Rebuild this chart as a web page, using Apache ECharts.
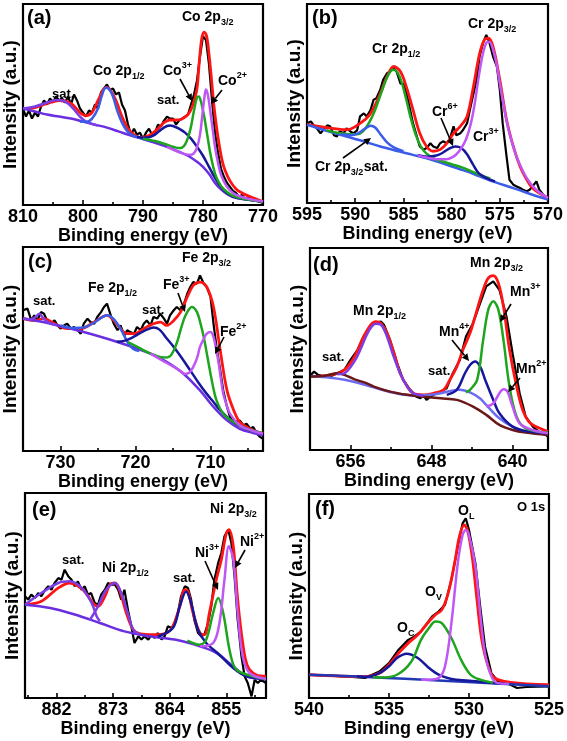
<!DOCTYPE html>
<html><head><meta charset="utf-8">
<script src="https://cdn.jsdelivr.net/npm/echarts@6/dist/echarts.min.js"></script>
<style>html,body{margin:0;padding:0;background:#fff}#c{width:567px;height:741px}</style>
</head><body><div id="c"></div>
<script>
// ---------- (a) Co 2p ----------
const aLabels=[810,800,790,780,770];
const aMinor=[805,795,785,775];
const aRaw=[[810,48],[809.5,44],[809,47],[808.5,43],[808,46],[807.5,44],[807,49],[806.5,52],[806,50],[805.5,53],[805,51],[804.5,54],[804,52],[803.5,53],[803,51],[802.5,54],[802,50],[801.5,55],[801,52],[800.5,48],[800,46],[799.5,44],[799,47],[798.5,46],[798,50],[797.5,48],[797,56],[796.5,58],[796,60],[795.5,57],[795,58],[794.5,55],[794,56],[793.5,50],[793,47],[792.5,40],[792,35],[791.5,38],[791,35],[790.5,36],[790,33],[789.5,36],[789,38],[788.5,35],[788,36],[787.5,40],[787,39],[786.5,42],[786,44],[785.5,43],[785,43],[784.5,40],[784,42],[783.5,43],[783,44],[782.5,45],[782,50],[781.5,55],[781,62],[780.5,74],[780,84],[779.5,82],[779,70],[778.5,52],[778,36],[777.5,26],[777,18],[776.5,14],[776,11],[775.5,9],[775,7],[774.5,6],[774,4],[773.5,5],[773,3],[772.5,4],[772,2.5],[771.5,3],[771,2],[770,1]];
const aFit=[[810,48],[808,48.5],[806,50.5],[804,52],[802,50.5],[800.5,46],[799.5,44.5],[798.5,46],[797.5,52],[796.5,58],[796,58.5],[795.5,57.5],[794.5,52],[793.5,44],[792.5,38],[791.5,35],[790.5,33.5],[789.5,34],[788.5,35.5],[787.5,38],[786.5,41],[785.5,42.3],[784.5,42.3],[783.5,42.8],[782.5,45],[782,47.5],[781.5,51.5],[781,58],[780.6,72],[780.2,83],[779.8,86],[779.4,84],[779,75],[778.6,63],[778.2,50],[777.8,40],[777.3,30],[776.8,22],[776.3,17],[775.5,12],[774.5,8],[773.5,6],[772,4],[771,2.8],[770,1.7]];
const aBg=[[810,48],[808,46.5],[806,45],[804,44],[802,43],[800,41.5],[798,40],[796,38.5],[794,36.5],[792,34.5],[790,32.8],[788,31],[786,29],[784,26.5],[782.5,24.5],[781,21.5],[780,19],[779,15.5],[778,11],[777,7.8],[776,5.5],[775,4],[773,2.8],[770,1.7]];
const aSat1=[[810,48],[808,49],[806,51],[804.5,52.2],[803.5,52],[802.5,50.5],[801.5,47.5],[800.5,44],[799.5,41.5],[798.5,40.3],[797.5,39.5]];
const aP12=[[800.5,41.5],[799.5,41.3],[798.5,43],[797.5,48],[796.8,55],[796.2,58.3],[795.6,57.5],[795,54],[794.3,47],[793.5,41],[792.7,37],[791.8,34.8],[790.5,33.4],[789,32]];
const aSat2=[[791,34],[790,33.5],[789,33.7],[788,35],[787,37.5],[786,39.3],[785.5,39.5],[785,39.3],[784,38],[783,36],[782,33],[781,29],[780,24.5],[779,19],[778,13.5],[777,9],[776,6],[775,4.2],[773,2.8],[770,1.7]];
const aCo3=[[790,33],[788,31.8],[786,30],[785,29],[784,28.3],[783.5,28.5],[783,30],[782.5,33.5],[782,39],[781.5,47],[781,53.5],[780.7,54],[780.3,51],[779.8,44],[779.3,35],[778.8,26],[778.3,19],[777.8,14],[777,9.5],[776,6.5],[775,4.6],[773,3],[770,1.7]];
const aCo2=[[786,29],[785,27.5],[784,26.3],[783,25.3],[782,25],[781.5,25.8],[781,28.5],[780.5,35],[780.1,45],[779.7,55],[779.5,57.5],[779.2,55],[778.8,47],[778.4,38],[778,29],[777.5,21],[777,15],[776,9],[775,6],[774,4.5],[772,2.8],[770,1.7]];

// ---------- (b) Cr 2p ----------
const bLabels=[595,590,585,580,575,570];
const bMinor=[592.5,587.5,582.5,577.5,572.5];
const bRaw=[[595,40],[594.6,41],[594.3,39],[594,37.6],[593.6,35],[593.3,36.8],[592.9,39],[592.6,38.5],[592.2,34],[591.9,33.4],[591.6,36],[591.2,35],[590.9,37.5],[590.5,36],[590.2,35],[589.8,36.5],[589.5,43.5],[589.1,45],[588.8,43.5],[588.4,46.8],[588.1,51.8],[587.8,52.7],[587.4,56.9],[587.1,61.9],[586.7,65.2],[586.4,66],[586,67.7],[585.7,66],[585.3,60],[585,60],[584.6,53.5],[584.3,46.8],[584,40],[583.6,33.4],[583.3,28.4],[582.9,26.8],[582.6,27.6],[582.2,30],[581.9,28.4],[581.5,27.6],[581.2,30],[580.9,31],[580.5,30],[580.2,31.8],[579.8,38.5],[579.5,34],[579.1,35],[578.8,36.8],[578.4,40],[578.1,46.8],[577.8,53.5],[577.4,61.9],[577.1,73.6],[576.7,81],[576.4,84.4],[576.1,81],[575.7,73.6],[575.3,68.6],[575,56.9],[574.7,40],[574.3,23.4],[574,11.7],[573.6,9.2],[573.3,8.4],[572.9,7.5],[572.6,6.7],[572.2,5.9],[571.9,6.7],[571.6,8.4],[571.2,10.9],[570.9,6.7],[570.5,4.2],[570.2,2.5],[570,1.7]];
const bFit=[[595,39.5],[592.6,37.6],[590.9,36.8],[589.5,40],[588.4,45],[587.4,55],[586.7,63.5],[586,68.6],[585.3,66],[584.7,58.5],[584,46.8],[583.3,35],[582.6,28.4],[581.9,26],[581.2,26.8],[580.5,30],[579.8,35],[579.1,38.5],[578.4,43.5],[577.8,56.9],[577.1,75],[576.6,82],[576.2,82.8],[575.7,78.6],[575,61.9],[574.3,41.8],[573.6,28.4],[572.9,18.4],[572.2,11.7],[571.6,7.5],[570.9,5],[570,2.5]];
const bBg=[[595,39.3],[593,36.3],[590.9,33.4],[589,30.8],[587.4,28.4],[585.5,26],[584,24.2],[582,21.6],[580.5,19.2],[578.5,16],[577.1,13.4],[575.5,10.5],[573.6,7.5],[572,4.8],[570,1.7]];
const bP12=[[593,36.5],[591.5,35],[590.5,34.5],[589.8,34.5],[589.2,36],[588.6,40],[588,46],[587.4,54],[586.8,62],[586.3,66.5],[586,67],[585.6,65.5],[585.2,61],[584.7,52],[584.2,42],[583.7,34],[583.2,28.5],[582.6,24.8],[581.8,22.3],[581,21],[580,19.5],[579,18],[578,16],[577.1,14.2],[576,12.2]];
const bSat=[[591.5,34.5],[590.5,34],[589.7,35],[589,37.3],[588.4,38.8],[587.9,37.8],[587.3,34],[586.7,30.5],[586,28],[585,26]];
const bCr6=[[583.5,24],[582.5,23.3],[581.7,23.7],[581,25],[580.3,27.2],[579.6,28.4],[579,27.6],[578.4,24.5],[577.8,19.5],[577.2,15],[576.5,12.8],[575.5,10.8]];
const bCr3=[[583.5,23.8],[582.5,22.8],[581.5,22],[580.5,22],[580,22.8],[579.5,24.5],[579,27.5],[578.5,32],[578,40],[577.6,50],[577.2,63],[576.8,74],[576.4,80.5],[576.1,81],[575.7,77],[575.3,69],[575,60],[574.6,49],[574.2,39],[573.7,30],[573.2,22.5],[572.7,17],[572.2,12.5],[571.5,8],[570.8,5],[570,2.5]];

// ---------- (c) Fe 2p ----------
const cLabels=[730,720,710];
const cMinor=[725,715,705];
const cRaw=[[735,69],[734.4,69.8],[733.9,64],[733.5,66.5],[733.1,64],[732.6,68.1],[732.2,67.3],[731.7,63.2],[731.3,62.4],[730.8,64],[730.4,61.6],[730,60],[729.5,61.6],[729.1,62.4],[728.6,60],[728.2,60.8],[727.7,59.2],[727.3,57.5],[726.9,62.4],[726.4,64.9],[726,63.2],[725.5,62.4],[725.1,65.7],[724.6,68.1],[724.2,70.6],[723.8,72.2],[723.3,66.5],[722.9,62.4],[722.4,59.2],[722,61.6],[721.5,56.7],[721.1,59.2],[720.7,58.3],[720.2,57.5],[719.8,60.8],[719.3,59.2],[718.9,62.4],[718.5,64],[718,61.6],[717.6,65.7],[717.1,64.9],[716.7,67.3],[716.2,64.9],[715.8,62.4],[715.4,66.5],[714.9,69],[714.5,70.6],[714,69],[713.6,71.4],[713.1,77.1],[712.7,80.4],[712.3,82.8],[711.8,82],[711.4,86.1],[710.9,82],[710.5,80.4],[710,75.5],[709.6,62.4],[709.2,51],[708.7,39.5],[708.3,29.7],[707.8,21.6],[707.4,16.7],[706.9,15],[706.5,14.2],[706.1,15],[705.6,12.6],[705.2,13.4],[704.7,10.9],[704.3,11.8],[703.8,8.5],[703.4,6.9],[703,6]];
const cFit=[[735,64.9],[733.5,64],[732.2,64.9],[730.8,62.4],[729.1,60],[727.3,60],[725.5,63.2],[723.8,66.5],[722.9,64],[722,60],[721.1,57.5],[720.2,57.5],[718.9,60],[717.6,62.4],[716.7,63.2],[715.8,61.6],[714.9,64],[714,68.1],[713.1,75.5],[712.3,81.2],[711.4,82.8],[710.5,80.4],[709.6,70.6],[708.7,49.3],[707.8,29.7],[706.9,19.9],[706.1,14.2],[705.2,11.8],[704.3,10.1],[703,8.5]];
const cBg=[[735,64.9],[731.3,62.4],[726.9,58.3],[722.4,53.4],[718,47.7],[715.8,43.6],[713.6,37.9],[711.4,29.7],[709.6,21.6],[707.8,15],[706.1,10.9],[704.3,8.8],[703,7.7]];
const cSat1=[[735,64.9],[734,64.5],[733.4,65.5],[732.8,67.3],[732.3,65],[731.5,62.8],[730.5,61.8]];
const cP12=[[730,61.5],[728.5,60.3],[727,60.5],[725.5,63],[724.5,65.5],[723.8,66.5],[723,65],[722,60],[721,53],[720.3,50],[719.5,49]];
const cSat2=[[722.5,53.5],[721.5,54],[720.5,55.5],[719.5,57.5],[718.5,59.5],[717.6,60.5],[716.8,59.5],[715.8,55],[714.9,51],[713.8,45.5],[712.7,39.5],[711.6,33.5],[710.5,28],[709.6,24],[708.7,20],[707,14.2],[705.2,10.9],[703,8.5]];
const cFe3=[[721,53.4],[719.5,50.5],[718,47.7],[717,46.3],[716.2,45.8],[715.4,46.5],[714.9,49.3],[714.4,54],[714,59.2],[713.5,65],[713.1,68.1],[712.5,70.6],[711.8,68.1],[711.3,62],[710.9,55.9],[710.4,46],[710,37.9],[709.6,30.5],[709.2,24.8],[708.3,18.3],[706.9,14.2],[705.2,10.9],[703,8.8]];
const cFe2=[[718,47.7],[716.5,44.5],[715,41.5],[714,39.2],[713.4,37.8],[712.8,38.5],[712.3,41.2],[711.8,45.5],[711.4,51],[710.9,55],[710.5,57.5],[710,58.3],[709.6,55.9],[709.2,49],[708.9,42.8],[708.6,35],[708.3,28.1],[707.8,22],[707.4,18.3],[706.1,12.6],[704.3,9.8],[703,8.5]];

// ---------- (d) Mn 2p ----------
const dLabels=[656,648,640];
const dMinor=[652,644];
const dRaw=[[659.9,37.2],[659.6,38.8],[659.2,37.2],[658.6,36.4],[657.9,36.7],[657.3,38],[656.6,39.7],[656,44.6],[655.3,49.6],[654.7,56.2],[654,62],[653.5,62.8],[653,63.6],[652.7,62],[652.1,54.5],[651.4,43],[650.8,34.7],[650.1,29.8],[649.5,26.4],[649.1,25.6],[648.8,27.3],[648.5,24.8],[648.1,26.4],[647.8,27.3],[647.1,28.9],[646.5,30.6],[645.9,38],[645.2,44.6],[644.6,56.2],[643.9,62.8],[643.2,72.7],[642.6,81],[641.9,83.5],[641.3,79.3],[640.6,66.1],[640,47.9],[639.3,28.1],[638.7,16.5],[638,11.6],[637.4,9.1],[636.7,7.4],[636.5,6.6]];
const dFit=[[659.9,36.4],[657.9,37.2],[656.6,39.7],[655.6,46.3],[654.7,56.2],[654,62],[653.5,63.6],[653,62.8],[652.4,57.9],[651.7,47.9],[651.1,38],[650.4,31.4],[649.8,28.1],[648.8,27.3],[647.8,28.1],[646.8,29.8],[646.2,34.7],[645.5,41.3],[644.9,49.6],[644.2,57.9],[643.6,67.8],[642.9,79.3],[642.4,85.1],[641.9,86.3],[641.4,82.6],[640.9,71.1],[640.3,49.6],[639.6,31.4],[639,19.8],[638.4,14],[637.7,11.6],[636.5,9.1]];
const dBg=[[659.9,36.4],[658.5,36.8],[657.3,38],[656.6,37.2],[655.6,35],[654.5,33.2],[653.7,31.4],[652.1,28.9],[650.4,27.3],[648.8,26.4],[647.1,25.6],[645.5,24.8],[643.9,21.5],[642.6,17.4],[641.3,12.4],[640,9.9],[638.7,8.6],[636.5,7.4]];
const dSat2=[[659.9,36.5],[658,35.8],[656.6,34.8],[655.3,33.3],[653.7,31],[652.1,28.7],[650.4,27.2],[649.1,27],[648.1,27.3],[647.1,28.1],[646,29.4],[645.2,29.8],[644.2,28.5],[643.2,25.5],[642.6,22.3],[641.3,15.7],[640,11.6],[638.7,9.1],[636.5,8.3]];
const dP12=[[657.3,37.5],[656.6,38],[655.6,44],[655,50],[654.4,57],[653.9,61.2],[653.5,62.5],[653,62],[652.4,56.2],[651.8,47.1],[651.1,38],[650.4,31.4],[649.8,28.1],[648.8,26.9]];
const dMn4=[[646.5,27.3],[645.5,29.8],[644.7,38],[644.2,42.1],[643.7,43.8],[643.2,41.3],[642.7,34.7],[641.9,24.8],[641.3,18.2],[640,11.6],[638.4,9.1],[636.5,8.3]];
const dMn3=[[644.6,28.5],[644.2,29.8],[643.5,34.7],[642.9,54.5],[642.4,69.4],[641.9,73.6],[641.4,69.4],[640.9,54.5],[640.3,31.4],[639.6,16.5],[638.7,10.7],[636.5,8.6]];
const dMn2=[[642.6,21.5],[641.9,23.1],[641.3,28.1],[640.9,30.1],[640.5,28.9],[640,21.5],[639.3,13.2],[638,9.9],[636.5,8.3]];

// ---------- (e) Ni 2p ----------
const eLabels=[882,873,864,855];
const eMinor=[886.5,877.5,868.5,859.5,850.5];
const eRaw=[[887,49.6],[886.5,48],[886,50.4],[885.4,48.8],[884.9,51.2],[884.4,49.6],[883.8,52.8],[883.3,54.5],[882.8,52.8],[882.3,56.1],[881.7,58.5],[881.2,57.7],[880.7,62.6],[880.1,59.3],[879.6,57.7],[879.1,54.5],[878.6,56.9],[878,52.8],[877.5,54.5],[877,50.4],[876.5,51.2],[875.9,46.3],[875.4,45.5],[874.9,50.4],[874.3,52.8],[873.8,56.1],[873.3,55.3],[872.7,55.3],[872.2,52.8],[871.7,48],[871.2,52.8],[870.6,42.3],[870.1,35],[869.6,26.8],[869,30.1],[868.5,28.5],[868,30.1],[867.4,28.5],[866.9,30.9],[866.4,29.3],[865.9,31.7],[865.3,28.5],[864.8,30.1],[864.3,35],[863.7,34.1],[863.2,36.6],[862.7,41.5],[862.2,49.6],[861.6,54.5],[861.1,53.7],[860.6,48],[860.1,38.2],[859.5,31.7],[859,30.1],[858.5,30.9],[857.9,36.6],[857.4,44.7],[856.9,57.7],[856.3,65.9],[855.8,70.7],[855.3,78.9],[854.7,82.1],[854.2,75.6],[853.7,59.3],[853.2,38.2],[852.6,20.3],[852.1,10.6],[851.6,7.3],[851,0.8],[850.5,8.9],[850,7.3],[849.5,8.9],[848.7,7.3]];
const eFit=[[887,45.5],[884.4,47.2],[881.7,53.7],[879.9,56.1],[877.8,52.8],[876.2,46.3],[875.4,44.7],[874.3,49.6],[873.5,55.3],[872.7,56.1],[872,52.8],[870.9,41.5],[869.8,33.3],[868.8,31.4],[866.6,30.9],[864.5,31.7],[863.5,35],[862.4,44.7],[861.6,52.8],[861.1,52],[860.3,41.5],[859.2,31.7],[858.5,30.9],[857.7,41.5],[856.6,57.7],[855.8,67.5],[855,80.5],[854.6,82.1],[853.9,74],[853.2,48],[852.4,26.8],[851.6,15.4],[850.3,11.4],[848.7,10.6]];
const eBg=[[887,45.5],[883,43.9],[879.1,40.7],[875.1,36.6],[871.2,32.5],[867.2,30.1],[863.2,28.5],[859.2,25.2],[856.6,22],[853.9,15.4],[851.8,10.6],[848.7,9.3]];
const eSat1=[[887,45.5],[884.4,51.2],[881.7,56.1],[879.9,56.9],[878,53.7],[876.4,46.3],[875.6,39.8],[875.1,37.5]];
const eP12=[[876.7,38],[875.4,44.7],[874.1,52.8],[872.7,56.1],[871.7,51.2],[870.6,40.7],[869.8,33.3],[868.8,31]];
const eSat2=[[865.9,30],[863.5,34.1],[862.4,44.7],[861.4,52],[860.6,46.3],[859.5,33.3],[858.2,26.8],[856.1,21.1],[853.9,14.6],[851.8,10.6],[848.7,9.3]];
const eNi3=[[861.2,28],[859.2,26],[858.2,28.5],[857.1,41.5],[856.3,48.8],[855.5,41.5],[854.4,22],[853.4,13.8],[850.8,10.6],[848.7,9.3]];
const eNi2=[[859.2,25.2],[857.1,26.8],[856.1,36.6],[855.3,57.7],[854.6,74],[853.9,67.5],[853.2,41.5],[852.4,20.3],[851.3,12.2],[848.7,9.3]];

// ---------- (f) O 1s ----------
const fLabels=[540,535,530,525];
const fMinor=[537.5,532.5,527.5];
const fRaw=[[540,11.4],[537.7,10.6],[536.5,9.8],[535.6,13],[535,17.1],[534.4,23.7],[533.8,28.5],[533.4,30.2],[533,32.6],[532.3,40],[531.9,42.4],[531.5,45.7],[531.1,57.9],[530.7,74.2],[530.4,85.6],[530.2,88.1],[530,82.4],[529.6,66.1],[529.3,44.9],[529,25.3],[528.6,12.2],[528.2,8.2],[527.4,6.5],[527,4.9],[526.4,5.4],[525,5.7]];
const fFit=[[540,11.4],[536.6,10.5],[535.6,12.2],[535,16.3],[534.4,22],[533.8,26.9],[533.2,31],[532.5,37.5],[532.1,40.8],[531.7,43.2],[531.3,51.4],[530.9,66.1],[530.6,79.1],[530.3,84.8],[530.1,82.4],[529.8,69.3],[529.5,48.1],[529.2,28.5],[528.8,15.5],[528.4,9.8],[527.4,7.7],[525,6.5]];
const fBg=[[540,11.4],[537,10.5],[534,9.4],[531,8.2],[528,7],[525,5.7]];
const fOc=[[537,10.5],[536.5,10.3],[535.6,12.2],[535,15.5],[534.5,19.6],[533.9,21.7],[533.2,19.6],[532.5,14.7],[531.9,11.4],[531.1,9.3],[530,8.5],[528,7]];
const fOv=[[536,10.2],[535.5,10],[534.5,11.4],[533.6,17.9],[533,28.5],[532.5,34.3],[532.1,37.5],[531.7,36.7],[531.1,29.4],[530.5,18.8],[529.9,11.4],[529.3,9],[528.5,7.5]];
const fOl=[[533,9],[532.5,9],[531.9,9.8],[531.5,15.5],[531.1,36.7],[530.7,66.1],[530.4,79.9],[530.2,82.4],[530,79.9],[529.6,64.6],[529.3,41.6],[529,22],[528.6,10.6],[528.2,7.3],[527.5,7]];

// ---------- build ----------
const FONT='"Liberation Sans", Arial, sans-serif';
const COL={raw:'#000000',fit:'#ff1414',green:'#1ea51e',navy:'#17179c',blue:'#3b5ce8',bg:'#6a2fe0',vio:'#c056f5',brown:'#6b1818',lblue:'#6c6cf2',sat:'#7b3de6',obg:'#2038b4'};

const panels=[
 {g:{left:22,top:4,width:241,height:201},min:770,max:810,lab:aLabels,minor:aMinor,
  s:[[aRaw,'raw'],[aFit,'fit'],[aBg,'bg'],[aSat1,'sat'],[aP12,'blue'],[aSat2,'navy'],[aCo3,'green'],[aCo2,'vio']]},
 {g:{left:307,top:4,width:241,height:199},min:570,max:595,lab:bLabels,minor:bMinor,
  s:[[bRaw,'raw'],[bFit,'fit'],[bBg,'blue'],[bP12,'green'],[bSat,'blue'],[bCr6,'navy'],[bCr3,'vio']]},
 {g:{left:22,top:247,width:241,height:204},min:703,max:735,lab:cLabels,minor:cMinor,
  s:[[cRaw,'raw'],[cFit,'fit'],[cBg,'bg'],[cSat1,'sat'],[cP12,'blue'],[cSat2,'navy'],[cFe3,'green'],[cFe2,'vio']]},
 {g:{left:310,top:248,width:238,height:202},min:636.5,max:660,lab:dLabels,minor:dMinor,
  s:[[dRaw,'raw'],[dFit,'fit'],[dSat2,'lblue'],[dBg,'brown'],[dP12,'sat'],[dMn4,'navy'],[dMn3,'green'],[dMn2,'vio']]},
 {g:{left:25,top:493,width:241,height:205},min:848.7,max:887,lab:eLabels,minor:eMinor,
  s:[[eRaw,'raw'],[eFit,'fit'],[eBg,'bg'],[eSat1,'sat'],[eP12,'sat'],[eSat2,'navy'],[eNi3,'green'],[eNi2,'vio']]},
 {g:{left:309,top:494,width:243,height:204},min:525,max:540,lab:fLabels,minor:fMinor,
  s:[[fRaw,'raw'],[fFit,'fit'],[fBg,'obg'],[fOc,'navy'],[fOv,'green'],[fOl,'vio']]}
];

const grid=[],xAxis=[],yAxis=[],series=[];
panels.forEach((p,i)=>{
  grid.push(Object.assign({show:true,borderColor:'#000',borderWidth:2.2,backgroundColor:'transparent',containLabel:false},p.g));
  xAxis.push({gridIndex:i,type:'value',inverse:true,min:p.min,max:p.max,position:'bottom',
    axisLine:{show:false},splitLine:{show:false},
    axisTick:{show:true,inside:true,length:5,customValues:p.lab,lineStyle:{color:'#000',width:1.6}},
    axisLabel:{show:true,customValues:p.lab,color:'#000',fontSize:18,fontWeight:'bold',fontFamily:FONT,margin:3},
    name:'Binding energy (eV)',nameLocation:'middle',nameGap:20,
    nameTextStyle:{color:'#000',fontSize:18,fontWeight:'bold',fontFamily:FONT}});
  xAxis.push({gridIndex:i,type:'value',inverse:true,min:p.min,max:p.max,position:'bottom',
    axisLine:{show:false},splitLine:{show:false},axisLabel:{show:false},
    axisTick:{show:true,inside:true,length:3,customValues:p.minor,lineStyle:{color:'#000',width:1.6}}});
  yAxis.push({gridIndex:i,type:'value',min:0,max:100,
    axisLine:{show:false},axisTick:{show:false},axisLabel:{show:false},splitLine:{show:false},
    name:'Intensity (a.u.)',nameLocation:'middle',nameGap:3,
    nameTextStyle:{color:'#000',fontSize:19,fontWeight:'bold',fontFamily:FONT}});
  p.s.forEach(([d,c],k)=>{
    series.push({type:'line',xAxisIndex:2*i,yAxisIndex:i,data:d,showSymbol:false,symbol:'none',
      smooth:c==='raw'?false:0.35,silent:true,animation:false,z:2+k,
      lineStyle:{color:COL[c],width:c==='raw'?2.2:(c==='fit'?2.8:2.5)}});
  });
});

// ---------- annotations ----------
const mctx=document.createElement('canvas').getContext('2d');
function tw(t,fs){mctx.font='bold '+fs+'px '+FONT;return mctx.measureText(t).width;}
const G=[];
function lab(x,y,parts,fs){
  let cx=x;
  parts.forEach(pt=>{
    const t=pt[0],k=pt[1];
    const f=k?Math.round(fs*0.64):fs;
    const dy=k==='sub'?fs*0.36:(k==='sup'?-fs*0.42:0);
    G.push({type:'text',x:cx,y:y+dy,z:100,style:{text:t,fontSize:f,fontWeight:'bold',fontFamily:FONT,fill:'#000',align:'left',verticalAlign:'middle'}});
    cx+=tw(t,f)+(k?0.5:0);
  });
}
function arrow(x1,y1,x2,y2){
  const a=Math.atan2(y2-y1,x2-x1),L=7,W=3.5;
  const bx=x2-L*Math.cos(a),by=y2-L*Math.sin(a);
  const px=-Math.sin(a)*W,py=Math.cos(a)*W;
  G.push({type:'line',z:100,shape:{x1:x1,y1:y1,x2:bx,y2:by},style:{stroke:'#000',lineWidth:1.6}});
  G.push({type:'polygon',z:100,shape:{points:[[x2,y2],[bx+px,by+py],[bx-px,by-py]]},style:{fill:'#000'}});
}
// (a)
lab(27,18,[['(a)']],20);
lab(52,94,[['sat.']],13);
lab(93,71,[['Co 2p'],['1/2','sub']],14);
lab(157,100,[['sat.']],13);
lab(182,17,[['Co 2p'],['3/2','sub']],14);
lab(163,71,[['Co'],['3+','sup']],14);
lab(218,81,[['Co'],['2+','sup']],14);
arrow(180,79,192,101); arrow(222,90,211,104);
// (b)
lab(312,18,[['(b)']],20);
lab(468,24,[['Cr 2p'],['3/2','sub']],14);
lab(372,49,[['Cr 2p'],['1/2','sub']],14);
lab(432,112,[['Cr'],['6+','sup']],14);
lab(473,137,[['Cr'],['3+','sup']],14);
lab(315,167,[['Cr 2p'],['3/2','sub'],['sat.']],14);
arrow(343,158,371,138); arrow(441,118,453,146);
// (c)
lab(28,262,[['(c)']],20);
lab(33,301,[['sat.']],13);
lab(88,288,[['Fe 2p'],['1/2','sub']],14);
lab(142,310,[['sat.']],13);
lab(182,258,[['Fe 2p'],['3/2','sub']],14);
lab(163,285,[['Fe'],['3+','sup']],14);
lab(220,332,[['Fe'],['2+','sup']],14);
arrow(178,293,185,312); arrow(224,337,215,354);
// (d)
lab(313,265,[['(d)']],20);
lab(353,311,[['Mn 2p'],['1/2','sub']],14);
lab(322,357,[['sat.']],13);
lab(428,371,[['sat.']],13);
lab(470,263,[['Mn 2p'],['3/2','sub']],14);
lab(510,292,[['Mn'],['3+','sup']],14);
lab(439,332,[['Mn'],['4+','sup']],14);
lab(516,369,[['Mn'],['2+','sup']],14);
arrow(511,304,500,322); arrow(452,340,469,361); arrow(520,378,508,392);
// (e)
lab(32,510,[['(e)']],20);
lab(62,560,[['sat.']],13);
lab(102,568,[['Ni 2p'],['1/2','sub']],14);
lab(173,578,[['sat.']],13);
lab(210,509,[['Ni 2p'],['3/2','sub']],14);
lab(195,553,[['Ni'],['3+','sup']],14);
lab(240,542,[['Ni'],['2+','sup']],14);
arrow(205,561,218,590); arrow(245,550,235,568);
// (f)
lab(315,509,[['(f)']],20);
lab(517,507,[['O 1s']],13);
lab(458,511,[['O'],['L','sub']],14);
lab(425,592,[['O'],['V','sub']],14);
lab(397,628,[['O'],['C','sub']],14);

const chart=echarts.init(document.getElementById('c'),null,{renderer:'canvas'});
chart.setOption({animation:false,backgroundColor:'#fff',grid:grid,xAxis:xAxis,yAxis:yAxis,series:series,graphic:{elements:G}});
</script></body></html>
